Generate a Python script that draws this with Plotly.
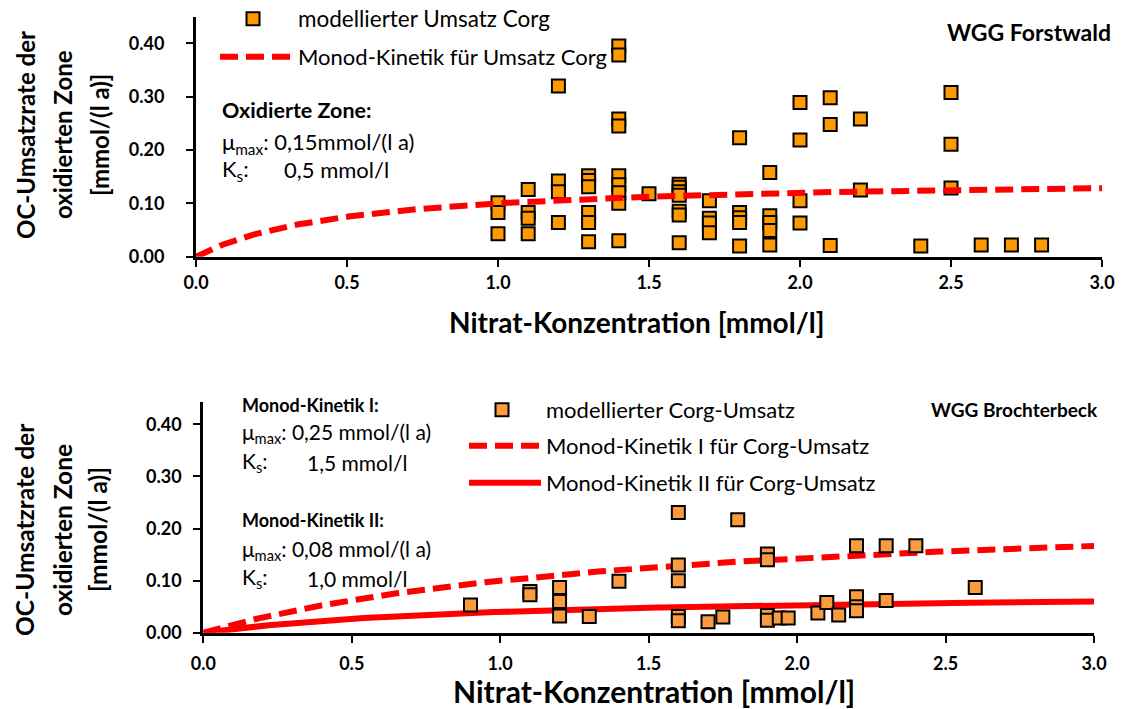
import numpy as np
import plotly.graph_objects as go

W, H = 1121, 709
FONT = "Lato, Carlito, sans-serif"

# ---------------- data: WGG Forstwald (top) ----------------
top_x = [1.0, 1.0, 1.0,
         1.1, 1.1, 1.1, 1.1,
         1.2, 1.2, 1.2, 1.2,
         1.3, 1.3, 1.3, 1.3, 1.3, 1.3,
         1.4, 1.4, 1.4, 1.4, 1.4, 1.4, 1.4, 1.4, 1.4,
         1.5,
         1.6, 1.6, 1.6, 1.6, 1.6, 1.6, 1.6,
         1.7, 1.7, 1.7, 1.7,
         1.8, 1.8, 1.8, 1.8, 1.8,
         1.9, 1.9, 1.9, 1.9, 1.9,
         2.0, 2.0, 2.0, 2.0,
         2.1, 2.1, 2.1,
         2.2, 2.2,
         2.4,
         2.5, 2.5, 2.5,
         2.6, 2.7, 2.8]
top_y = [0.101, 0.083, 0.043,
         0.126, 0.083, 0.072, 0.043,
         0.320, 0.142, 0.122, 0.064,
         0.152, 0.143, 0.131, 0.083, 0.064, 0.028,
         0.395, 0.378, 0.258, 0.245, 0.152, 0.135, 0.120, 0.100, 0.030,
         0.118,
         0.136, 0.130, 0.122, 0.115, 0.085, 0.078, 0.026,
         0.105, 0.072, 0.063, 0.045,
         0.223, 0.083, 0.073, 0.064, 0.020,
         0.158, 0.077, 0.064, 0.049, 0.022,
         0.289, 0.219, 0.105, 0.063,
         0.298, 0.248, 0.021,
         0.258, 0.125,
         0.020,
         0.308, 0.211, 0.129,
         0.022, 0.022, 0.022]
top_mu, top_ks = 0.15, 0.5

# ---------------- data: WGG Brochterbeck (bottom) ----------------
bot_x = [0.9,
         1.1, 1.1,
         1.2, 1.2, 1.2,
         1.3,
         1.4,
         1.6, 1.6, 1.6, 1.6, 1.6,
         1.7, 1.75,
         1.8,
         1.9, 1.9, 1.9, 1.9,
         1.94, 1.97,
         2.07, 2.1, 2.14,
         2.2, 2.2, 2.2, 2.2,
         2.3, 2.3,
         2.4,
         2.6]
bot_y = [0.053,
         0.079, 0.073,
         0.087, 0.060, 0.032,
         0.031,
         0.099,
         0.231, 0.130, 0.100, 0.031, 0.023,
         0.021, 0.030,
         0.217,
         0.151, 0.140, 0.033, 0.024,
         0.028, 0.028,
         0.038, 0.058, 0.034,
         0.167, 0.069, 0.050, 0.042,
         0.167, 0.062,
         0.167,
         0.087]
bot_mu1, bot_ks1 = 0.25, 1.5
bot_mu2, bot_ks2 = 0.08, 1.0

x_ticks = [0.0, 0.5, 1.0, 1.5, 2.0, 2.5, 3.0]
y_ticks = [0.0, 0.1, 0.2, 0.3, 0.4]

xs = np.linspace(0, 3, 301)
def monod(mu, ks, x):
    return mu * x / (ks + x)

def px(x):
    return x / W
def py(y):
    return 1 - y / H

fig = go.Figure()

# top
fig.add_trace(go.Scatter(x=top_x, y=top_y, mode="markers", name="modellierter Umsatz Corg",
                         marker=dict(symbol="square", size=13, color="#FF9900",
                                     line=dict(color="black", width=2)),
                         xaxis="x", yaxis="y", legend="legend"))
fig.add_trace(go.Scatter(x=xs, y=monod(top_mu, top_ks, xs), mode="lines",
                         name="Monod-Kinetik für Umsatz Corg",
                         line=dict(color="#FF0000", width=6, dash="18px,8px"),
                         xaxis="x", yaxis="y", legend="legend2"))
# bottom
fig.add_trace(go.Scatter(x=xs, y=monod(bot_mu1, bot_ks1, xs), mode="lines",
                         name="Monod-Kinetik I für Corg-Umsatz",
                         line=dict(color="#FF0000", width=6, dash="18px,8px"),
                         xaxis="x2", yaxis="y2", legend="legend4"))
fig.add_trace(go.Scatter(x=xs, y=monod(bot_mu2, bot_ks2, xs), mode="lines",
                         name="Monod-Kinetik II für Corg-Umsatz",
                         line=dict(color="#FF0000", width=6),
                         xaxis="x2", yaxis="y2", legend="legend5"))
fig.add_trace(go.Scatter(x=bot_x, y=bot_y, mode="markers", name="modellierter Corg-Umsatz",
                         marker=dict(symbol="square", size=13, color="#F99B3E",
                                     line=dict(color="black", width=2)),
                         xaxis="x2", yaxis="y2", legend="legend3"))

def axis(**kw):
    d = dict(showline=True, linecolor="black", linewidth=3, ticks="outside",
             ticklen=7, tickwidth=2, tickcolor="black", showgrid=False,
             zeroline=False, automargin=False, ticklabeloverflow="allow",
             tickfont=dict(family=FONT, size=18, color="black", weight="bold"))
    d.update(kw)
    return d

fig.update_layout(
    width=W, height=H, margin=dict(l=0, r=0, t=0, b=0, autoexpand=False),
    paper_bgcolor="white", plot_bgcolor="white",
    font=dict(family=FONT, color="black"),
    xaxis=axis(domain=[px(196), px(1102)], range=[0, 3], tickvals=x_ticks,
               tickformat=".1f", anchor="y", ticklabelstandoff=1),
    yaxis=axis(domain=[py(256.7), py(16.7)], range=[0, 0.45], tickvals=y_ticks,
               tickformat=".2f", anchor="x", ticklabelstandoff=18),
    xaxis2=axis(domain=[px(203.3), px(1094)], range=[0, 3], tickvals=x_ticks,
                tickformat=".1f", anchor="y2", ticklabelstandoff=6),
    yaxis2=axis(domain=[py(632.7), py(401.5)], range=[0, 0.444], tickvals=y_ticks,
                tickformat=".2f", anchor="x2", ticklabelstandoff=8),
    showlegend=True,
    hovermode=False,
)

def legend_at(xpx, ypx, w, size=22):
    return dict(x=px(xpx), y=py(ypx), xanchor="left", yanchor="middle",
                font=dict(family=FONT, size=size, color="black"),
                bgcolor="rgba(0,0,0,0)", itemwidth=w)

fig.update_layout(
    legend=legend_at(208, 19, 80, 22.5),
    legend2=legend_at(215, 57, 73),
    legend3=legend_at(458, 410, 78),
    legend4=legend_at(464, 446, 72),
    legend5=legend_at(464, 483, 72),
)

ann = []
def text(xpx, ypx, t, size=18, bold=False, xanchor="left", angle=0):
    ann.append(dict(x=px(xpx), y=py(ypx), xref="paper", yref="paper", text=t,
                    showarrow=False, xanchor=xanchor, yanchor="middle", textangle=angle,
                    font=dict(family=FONT, size=size, color="black",
                              weight="bold" if bold else "normal")))

ytitle = ["OC-Umsatzrate der", "oxidierten Zone", "[mmol/(l a)]"]

# top annotations
text(1113, 32, "WGG Forstwald", size=23, bold=True, xanchor="right")
text(220, 110, "Oxidierte Zone:", size=21.5, bold=True)
text(220, 143, "μ<sub>max</sub>: 0,15mmol/(l a)", size=22)
text(220, 170, "K<sub>s</sub>:", size=22)
text(282, 170, "0,5 mmol/l", size=22)
text(636, 322, "Nitrat-Konzentration [mmol/l]", size=28, bold=True, xanchor="center")
for xp, t in zip([25, 62, 99], ytitle):
    text(xp, 135, t, size=24, bold=True, xanchor="center", angle=-90)

# bottom annotations
text(1100, 409, "WGG Brochterbeck", size=19, bold=True, xanchor="right")
text(240, 405, "Monod-Kinetik I:", size=18, bold=True)
text(240, 433, "μ<sub>max</sub>: 0,25 mmol/(l a)", size=21)
text(240, 462, "K<sub>s</sub>:", size=21)
text(305, 462, "1,5 mmol/l", size=21)
text(240, 520, "Monod-Kinetik II:", size=18, bold=True)
text(240, 550, "μ<sub>max</sub>: 0,08 mmol/(l a)", size=21)
text(240, 578, "K<sub>s</sub>:", size=21)
text(305, 578, "1,0 mmol/l", size=21)
text(654, 691, "Nitrat-Konzentration [mmol/l]", size=30, bold=True, xanchor="center")
for xp, t in zip([24, 62, 97], ytitle):
    text(xp, 530, t, size=24.5, bold=True, xanchor="center", angle=-90)

fig.update_layout(annotations=ann)
fig.write_html("out.html", config={"displayModeBar": False},
               post_script="document.body.style.margin='0';document.body.style.padding='0';")
